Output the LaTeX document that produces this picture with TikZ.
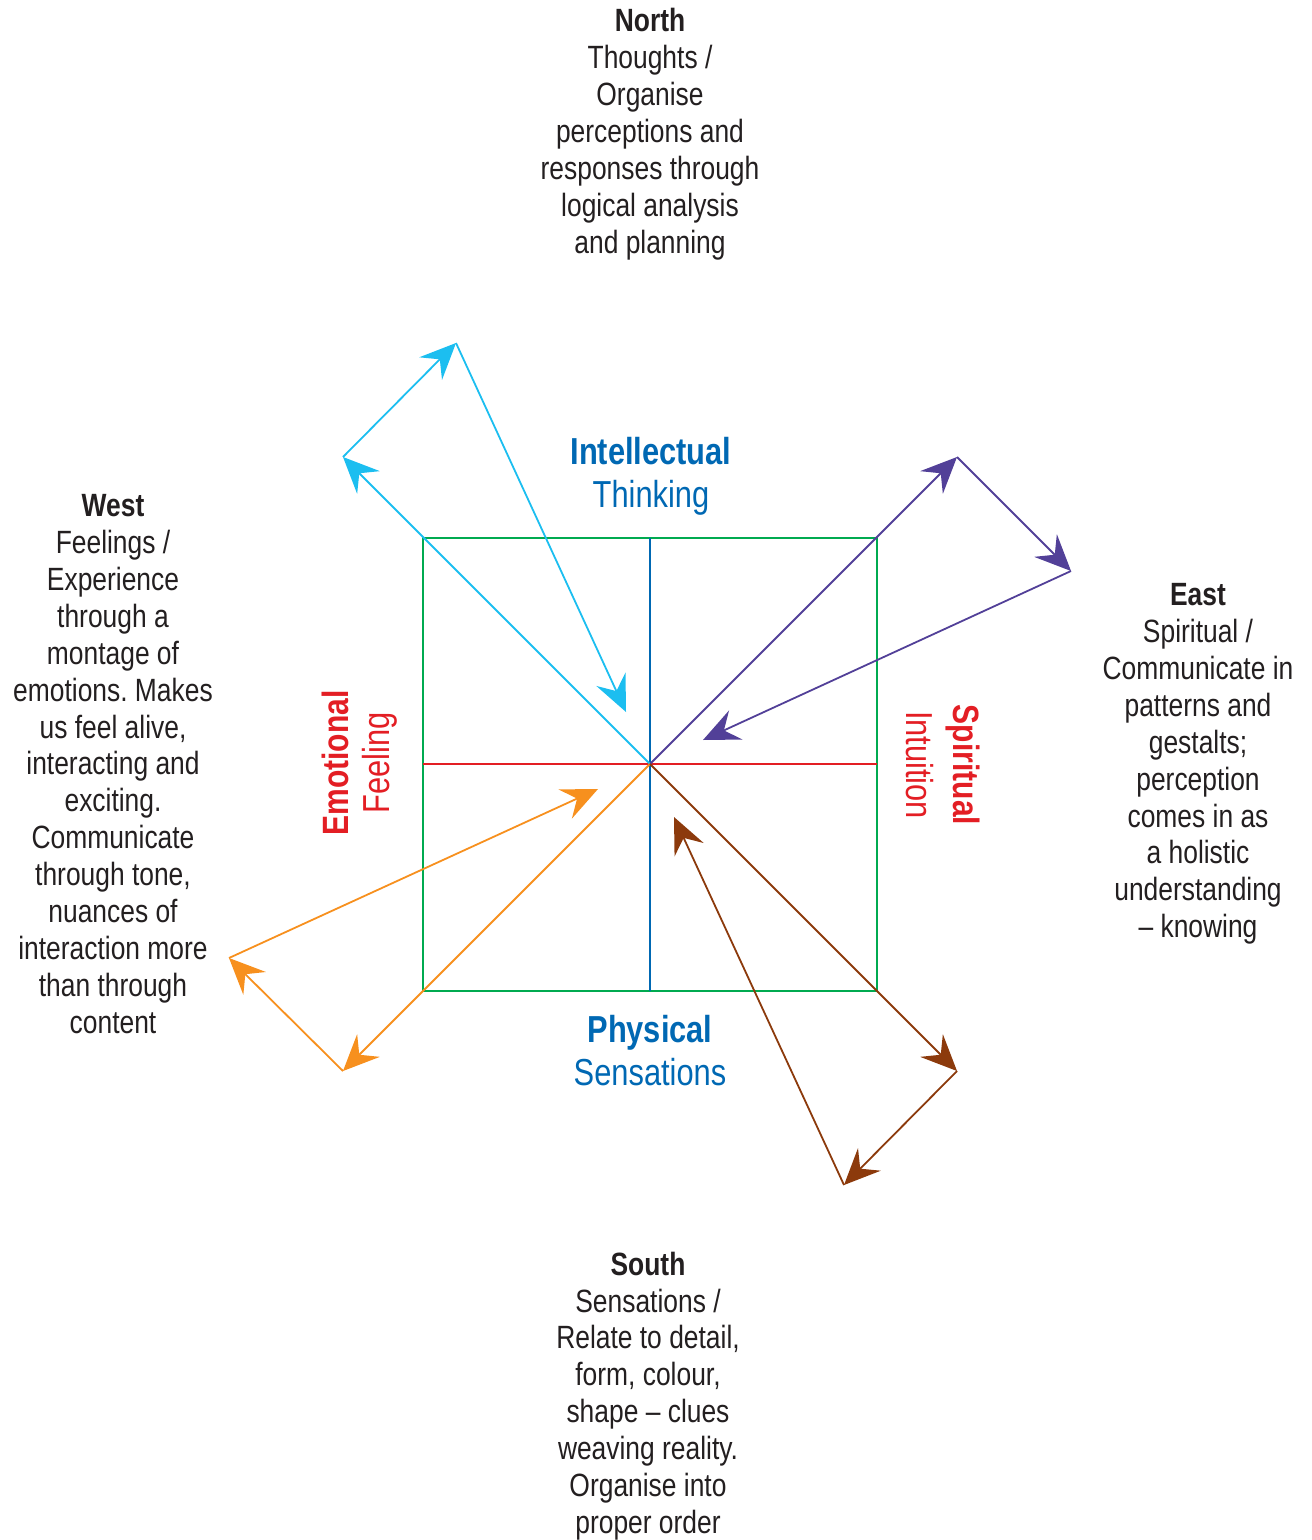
\documentclass[tikz,border=0pt]{standalone}
\usepackage{fontspec}
\setmainfont{Liberation Sans}[FakeStretch=0.82]
\usetikzlibrary{arrows.meta}
\definecolor{txt}{RGB}{35,31,32}
\definecolor{bluet}{RGB}{0,104,179}
\definecolor{redt}{RGB}{227,30,36}
\definecolor{greenl}{RGB}{0,170,80}
\definecolor{cyanl}{RGB}{28,190,240}
\definecolor{purpl}{RGB}{82,64,152}
\definecolor{orangel}{RGB}{247,144,30}
\definecolor{brownl}{RGB}{140,58,12}
\tikzset{
  body/.style={align=center, inner sep=0pt, text=txt, font=\frenchspacing\fontsize{16.1}{18.45}\selectfont},
  mid/.style={align=center, inner sep=0pt, font=\fontsize{18.8}{21.5}\selectfont},
  vec/.style={line width=0.9pt, -{Stealth[length=18pt,width=16pt,inset=6.5pt]}},
}
\begin{document}
\begin{tikzpicture}[x=0.5pt,y=-0.5pt]
\useasboundingbox (0,0) rectangle (1311,1540);
% key points
\coordinate (O) at (650,764);
\coordinate (TL) at (423,538);
\coordinate (TR) at (877,538);
\coordinate (BL) at (423,991);
\coordinate (BR) at (877,991);
\coordinate (Tm) at (650,538);
\coordinate (Bm) at (650,991);
\coordinate (Lm) at (423,764);
\coordinate (Rm) at (877,764);
% cyan
\coordinate (c1) at (343,457);
\coordinate (c2) at (456,343);
\coordinate (c3) at (626,712);
% purple
\coordinate (p1) at (957,457);
\coordinate (p2) at (1071,571);
\coordinate (p3) at (703,740);
% orange
\coordinate (o1) at (343,1071);
\coordinate (o2) at (229,958);
\coordinate (o3) at (598,789);
% brown
\coordinate (b1) at (957,1071);
\coordinate (b2) at (844,1185);
\coordinate (b3) at (674,817);

% square and cross
\draw[line width=1.1pt, greenl] (TL) rectangle (BR);
\draw[line width=0.9pt, bluet] (Tm) -- (Bm);
\draw[line width=0.9pt, redt] (Lm) -- (Rm);

% vectors
\draw[vec, cyanl] (O) -- (c1);
\draw[vec, cyanl] (c1) -- (c2);
\draw[vec, cyanl] (c2) -- (c3);
\draw[vec, purpl] (O) -- (p1);
\draw[vec, purpl] (p1) -- (p2);
\draw[vec, purpl] (p2) -- (p3);
\draw[vec, orangel] (O) -- (o1);
\draw[vec, orangel] (o1) -- (o2);
\draw[vec, orangel] (o2) -- (o3);
\draw[vec, brownl] (O) -- (b1);
\draw[vec, brownl] (b1) -- (b2);
\draw[vec, brownl] (b2) -- (b3);

% inner labels
\node[mid, text=bluet] (intel) at (651,476) {\textbf{Intellectual}\\Thinking};
\node[mid, text=bluet] (phys) at (650,1051) {\textbf{Physical}\\Sensations};
\node[mid, text=redt, rotate=90, font=\bfseries\fontsize{18.3}{21.5}\selectfont] (emo) at (335,763) {Emotional};
\node[mid, text=redt, rotate=90] (feel) at (380,763) {Feeling};
\node[mid, text=redt, rotate=-90, font=\bfseries\fontsize{18.3}{21.5}\selectfont] (spir) at (963,765) {Spiritual};
\node[mid, text=redt, rotate=-90] (intu) at (920,765) {Intuition};

% outer texts
\node[body] (north) at (650,134) {\textbf{North}\\Thoughts /\\Organise\\perceptions and\\responses through\\logical analysis\\and planning};
\node[body] (west) at (113,764) {\textbf{West}\\Feelings /\\Experience\\through a\\montage of\\emotions. Makes\\us feel alive,\\interacting and\\exciting.\\Communicate\\through tone,\\nuances of\\interaction more\\than through\\content};
\node[body] (east) at (1198,764) {\textbf{East}\\Spiritual /\\Communicate in\\patterns and\\gestalts;\\perception\\comes in as\\a holistic\\understanding\\– knowing};
\node[body] (south) at (648,1396) {\textbf{South}\\Sensations /\\Relate to detail,\\form, colour,\\shape – clues\\weaving reality.\\Organise into\\proper order};
\end{tikzpicture}
\end{document}
